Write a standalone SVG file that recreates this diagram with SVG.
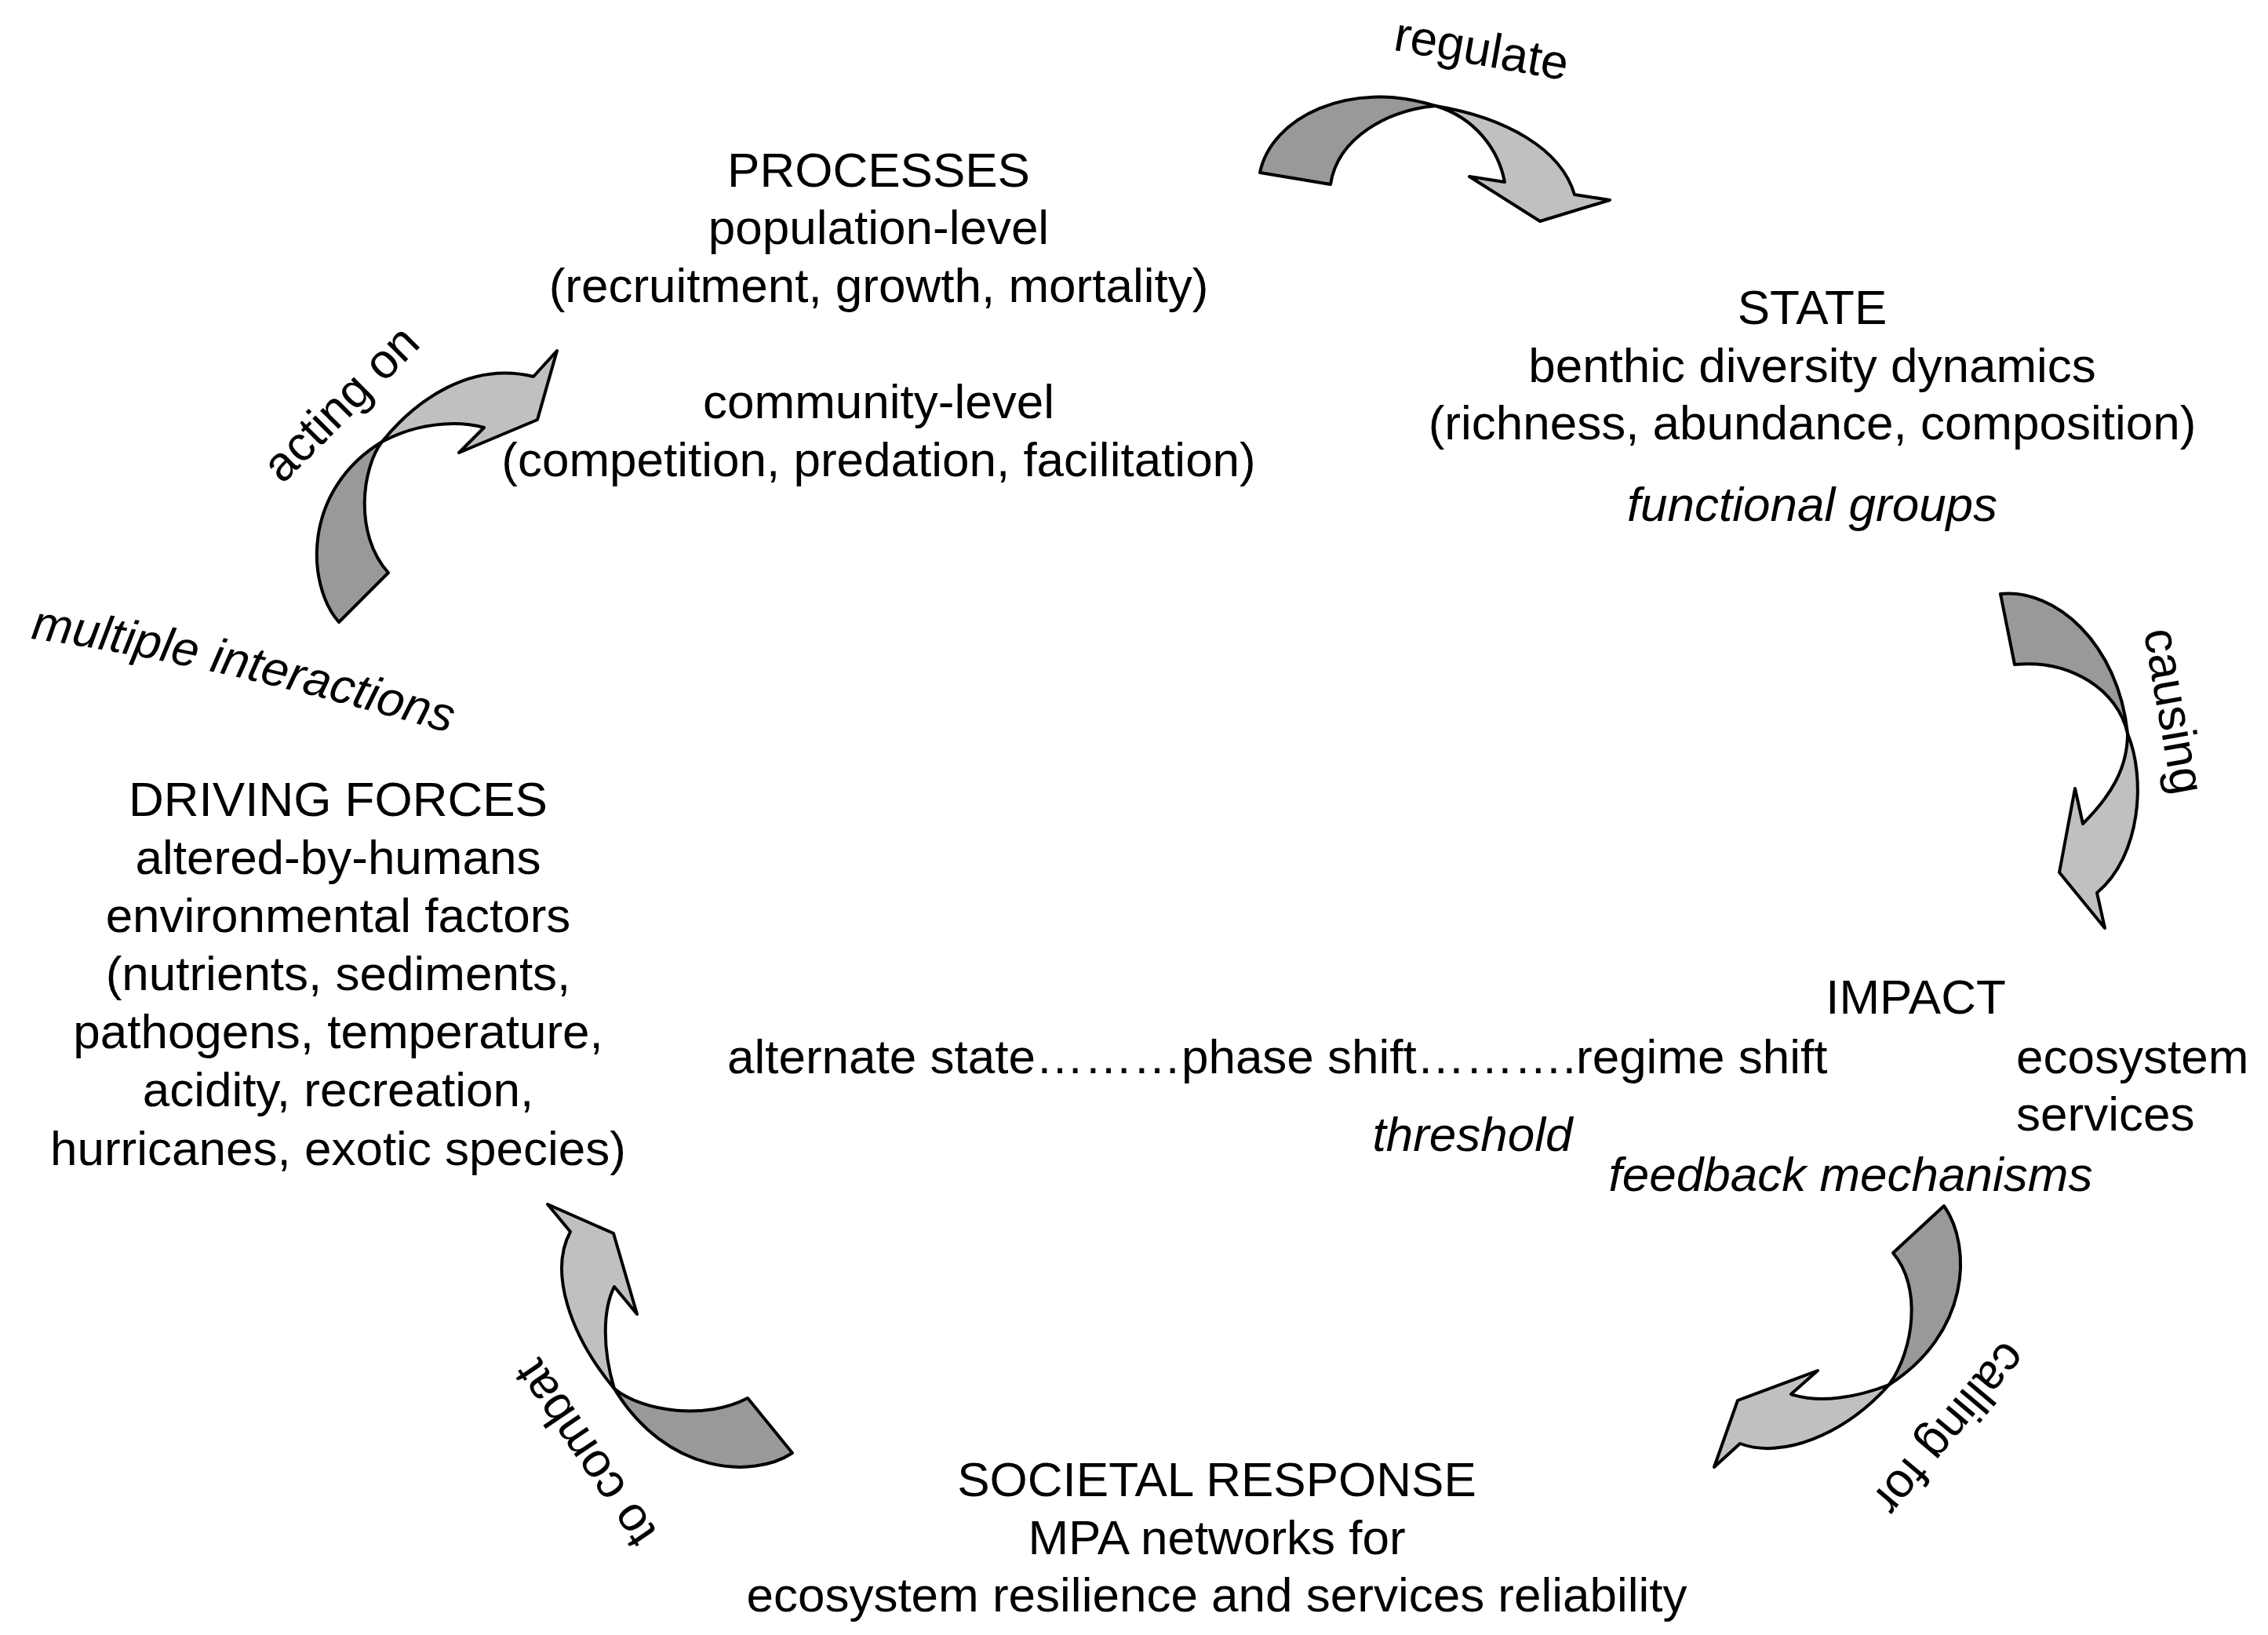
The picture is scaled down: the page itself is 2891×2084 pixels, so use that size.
<svg xmlns="http://www.w3.org/2000/svg" xmlns:xlink="http://www.w3.org/1999/xlink" width="2891" height="2084" viewBox="0 0 2891 2084">
<style>
.t{font-family:"Liberation Sans",Arial,sans-serif;font-size:62px;fill:#000}
.c{text-anchor:middle}
.i{font-style:italic}
.dark{fill:#999999;stroke:#000;stroke-width:4;stroke-linejoin:round}
.light{fill:#c0c0c0;stroke:#000;stroke-width:4;stroke-linejoin:round}
</style>
<defs>
<path id="mi" d="M39,814 Q270,845 585,938"/>
</defs>
<rect width="2891" height="2084" fill="#fff"/>

<g id="processes" class="t c">
<text x="1120" y="238">PROCESSES</text>
<text x="1120" y="311">population-level</text>
<text x="1120" y="385">(recruitment, growth, mortality)</text>
<text x="1120" y="533">community-level</text>
<text x="1120" y="607">(competition, predation, facilitation)</text>
</g>

<g id="state" class="t c">
<text x="2310" y="413">STATE</text>
<text x="2310" y="487">benthic diversity dynamics</text>
<text x="2310" y="560">(richness, abundance, composition)</text>
<text x="2310" y="664" class="i">functional groups</text>
</g>

<g id="impact" class="t">
<text x="2442" y="1292" class="c">IMPACT</text>
<text x="927" y="1368">alternate state………phase shift……….regime shift</text>
<text x="2570" y="1368">ecosystem</text>
<text x="2570" y="1441">services</text>
<text x="1877" y="1467" class="c i">threshold</text>
<text x="2359" y="1518" class="c i">feedback mechanisms</text>
</g>

<g id="driving-forces" class="t c">
<text x="431" y="1040">DRIVING FORCES</text>
<text x="431" y="1114">altered-by-humans</text>
<text x="431" y="1188">environmental factors</text>
<text x="431" y="1262">(nutrients, sediments,</text>
<text x="431" y="1336">pathogens, temperature,</text>
<text x="431" y="1410">acidity, recreation,</text>
<text x="431" y="1485">hurricanes, exotic species)</text>
</g>

<g id="societal-response" class="t c">
<text x="1551" y="1907">SOCIETAL RESPONSE</text>
<text x="1551" y="1981">MPA networks for</text>
<text x="1551" y="2054">ecosystem resilience and services reliability</text>
</g>

<g id="connectors">
<g id="arrow-regulate">
<path class="dark" d="M1606,220 C1620,150 1720,100 1830,135 C1770,140 1705,175 1696,235 Z"/>
<path class="light" d="M1830,135 C1920,150 1990,190 2007,248 L2052,255 L1963,282 L1873,225 L1918,232 C1910,190 1880,150 1830,135 Z"/>
</g>
<g id="arrow-acting-on">
<path class="dark" d="M432,793 C390,745 385,625 487,563 C462,595 450,680 495,730 Z"/>
<path class="light" d="M487,563 C530,510 600,460 680,480 L710,447 L685,535 L585,577 L617,545 C580,535 530,540 487,563 Z"/>
</g>
<g id="arrow-causing">
<path class="dark" d="M2550,757 C2620,750 2700,820 2712,935 C2700,880 2640,840 2568,847 Z"/>
<path class="light" d="M2712,935 C2735,990 2730,1090 2673,1138 L2683,1183 L2625,1112 L2645,1005 L2655,1050 C2690,1015 2712,980 2712,935 Z"/>
</g>
<g id="arrow-calling-for">
<path class="dark" d="M2478,1537 C2515,1590 2510,1700 2408,1765 C2440,1720 2450,1640 2413,1597 Z"/>
<path class="light" d="M2408,1765 C2350,1830 2270,1860 2218,1840 L2185,1870 L2215,1785 L2317,1747 L2283,1777 C2320,1790 2370,1780 2408,1765 Z"/>
</g>
<g id="arrow-to-combat">
<path class="dark" d="M1010,1852 C960,1885 850,1880 783,1770 C820,1800 900,1810 953,1782 Z"/>
<path class="light" d="M783,1770 C725,1700 700,1620 727,1570 L698,1535 L782,1572 L812,1675 L783,1640 C768,1670 768,1720 783,1770 Z"/>
</g>
<g id="labels" class="t">
<text class="c" transform="translate(1885,83) rotate(10)">regulate</text>
<text class="c" transform="translate(449,529) rotate(-45)">acting on</text>
<text class="i"><textPath xlink:href="#mi" href="#mi">multiple interactions</textPath></text>
<text class="c" transform="translate(2751,910) rotate(80)">causing</text>
<text class="c" transform="translate(2470,1808) rotate(130)">calling for</text>
<text class="c" transform="translate(763,1841) rotate(-124)">to combat</text>
</g>
</g>
</svg>
